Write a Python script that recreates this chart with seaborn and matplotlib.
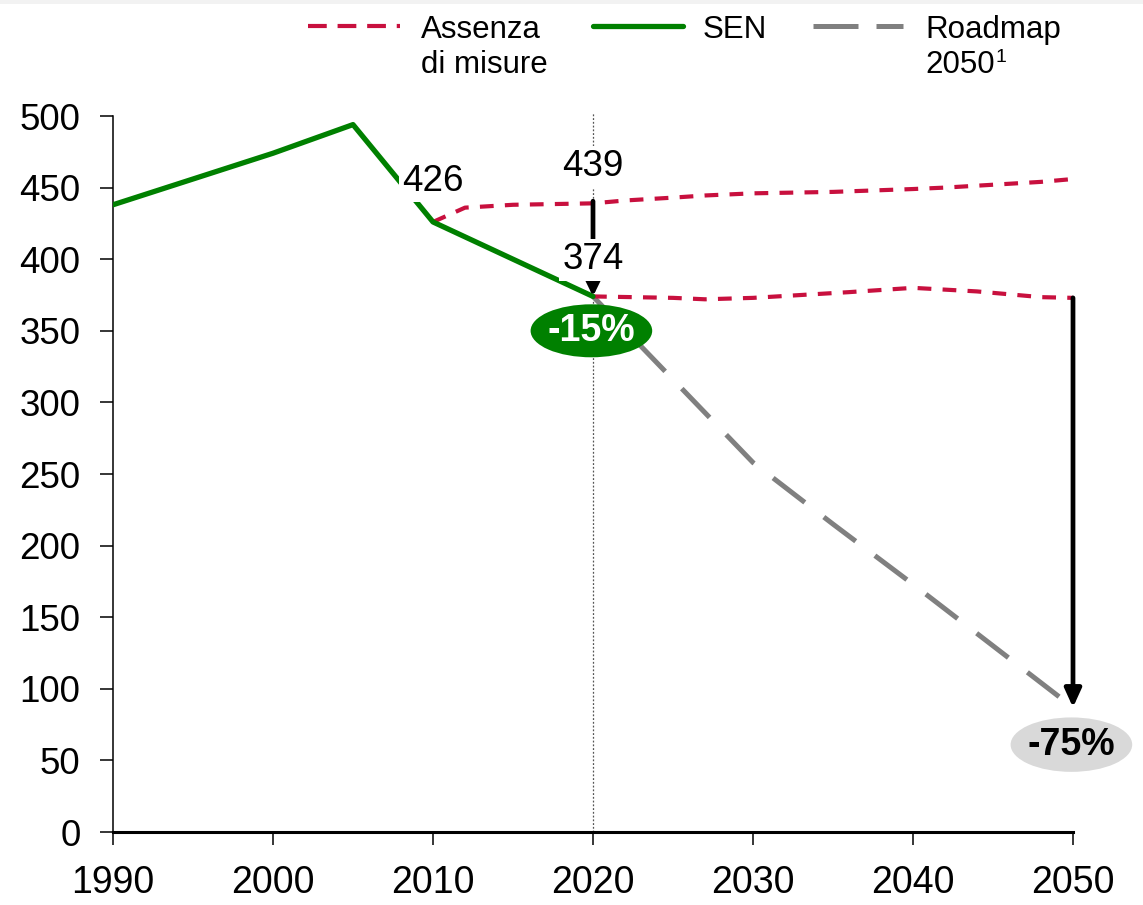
import matplotlib
matplotlib.use("Agg")
import matplotlib.pyplot as plt
from matplotlib.patches import Ellipse, Rectangle
from matplotlib.lines import Line2D
import pandas as pd
import seaborn as sns

# Emissions trajectory, Mt CO2eq
sen_years = [1990, 2000, 2005, 2010, 2020]
sen_values = [438, 474, 494, 426, 374]

# "Assenza di misure": branch from 2010 and branch from 2020
nomeasures_hi_years = [2010, 2012, 2015, 2020, 2022, 2025, 2027, 2030, 2035, 2040, 2042, 2045, 2048, 2050]
nomeasures_hi_values = [426, 436, 438, 439, 441, 443, 444.5, 446, 447, 449, 450, 452, 454, 456]
nomeasures_lo_years = [2020, 2025, 2027, 2030, 2033, 2036, 2040, 2044, 2046, 2048, 2050]
nomeasures_lo_values = [374, 373, 372, 373, 375, 377, 380, 377.5, 375.5, 373.5, 373]

roadmap_years = [2020, 2030, 2035, 2040, 2050]
roadmap_values = [374, 258, 215, 173, 87]

x_ticks = [1990, 2000, 2010, 2020, 2030, 2040, 2050]
y_ticks = [0, 50, 100, 150, 200, 250, 300, 350, 400, 450, 500]

legend_labels = [["Assenza", "di misure"], ["SEN"], ["Roadmap", "2050"]]
footnote_mark = "1"
badge_sen = "-15%"
badge_roadmap = "-75%"

RED = "#C8103E"
GREEN = "#008000"
GREY = "#808080"

sns.set_theme(style="white")
plt.rcParams["font.family"] = ["Liberation Sans", "DejaVu Sans"]

W, H = 1143, 905
fig = plt.figure(figsize=(W / 100, H / 100), dpi=100)
fig.patch.set_facecolor("white")
# thin light band at the very top
fig.patches.append(Rectangle((0, 1 - 4 / H), 1, 4 / H, transform=fig.transFigure,
                             facecolor="#F2F2F2", edgecolor="none"))

ax = fig.add_axes([113 / W, 1 - 832 / H, (1073 - 113) / W, (832 - 116) / H])
ax.set_facecolor("white")

df_sen = pd.DataFrame({"anno": sen_years, "valore": sen_values})
df_hi = pd.DataFrame({"anno": nomeasures_hi_years, "valore": nomeasures_hi_values})
df_lo = pd.DataFrame({"anno": nomeasures_lo_years, "valore": nomeasures_lo_values})
df_rm = pd.DataFrame({"anno": roadmap_years, "valore": roadmap_values})

red_dash = (0, (3.3, 2.7))
grey_dash = (0, (8.0, 4.8))

sns.lineplot(data=df_rm, x="anno", y="valore", ax=ax, color=GREY, lw=3.6,
             linestyle=grey_dash, legend=False, zorder=2)
sns.lineplot(data=df_hi, x="anno", y="valore", ax=ax, color=RED, lw=3.0,
             linestyle=red_dash, legend=False, zorder=3)
sns.lineplot(data=df_lo, x="anno", y="valore", ax=ax, color=RED, lw=3.0,
             linestyle=red_dash, legend=False, zorder=3)
sns.lineplot(data=df_sen, x="anno", y="valore", ax=ax, color=GREEN, lw=3.8,
             legend=False, zorder=4)

# reference year marker
ax.plot([2020, 2020], [0, 502], color="#555555", lw=0.9, linestyle=(0, (1.5, 1.5)),
        clip_on=False, zorder=1)

ax.set_xlim(1990, 2050)
ax.set_ylim(0, 500)
ax.set_xticks(x_ticks)
ax.set_yticks(y_ticks)
ax.set_xlabel("")
ax.set_ylabel("")
for s in ["top", "right"]:
    ax.spines[s].set_visible(False)
ax.spines["left"].set_color("black")
ax.spines["left"].set_linewidth(1.1)
ax.spines["bottom"].set_color("black")
ax.spines["bottom"].set_linewidth(2.2)
ax.spines["bottom"].set_zorder(6)
ax.tick_params(axis="y", direction="out", length=9.4, width=1.1, color="black",
               labelsize=26.5, pad=14, left=True)
ax.tick_params(axis="x", direction="out", length=9.4, width=1.1, color="black",
               labelsize=27, pad=14.5, bottom=True)
for lab in ax.get_xticklabels() + ax.get_yticklabels():
    lab.set_color("black")

# value labels
box = dict(boxstyle="square,pad=0.1", facecolor="white", edgecolor="none")
ax.text(2010, 454.5, f"{sen_values[3]}", ha="center", va="center", fontsize=26.5,
        color="black", bbox=box, zorder=7)
ax.text(2020, 464.5, f"{nomeasures_hi_values[3]}", ha="center", va="center", fontsize=26.5,
        color="black", bbox=box, zorder=7)

# change arrows
ax.annotate("", xy=(2020, sen_values[-1]), xytext=(2020, nomeasures_hi_values[3] + 1.5),
            arrowprops=dict(arrowstyle="-|>,head_length=0.45,head_width=0.22", lw=3.4,
                            color="black", shrinkA=0, shrinkB=0, mutation_scale=20),
            zorder=6)
ax.text(2020, 399.5, f"{sen_values[-1]}", ha="center", va="center", fontsize=26.5,
        color="black", bbox=box, zorder=7)
ax.annotate("", xy=(2050, roadmap_values[-1]), xytext=(2050, nomeasures_lo_values[-1]),
            arrowprops=dict(arrowstyle="-|>,head_length=0.55,head_width=0.25", lw=3.4,
                            color="black", shrinkA=0, shrinkB=0, mutation_scale=20),
            annotation_clip=False, zorder=6)

# percentage badges
ax.add_patch(Ellipse((2019.9, 350), width=7.6, height=37, facecolor=GREEN,
                     edgecolor="none", zorder=8, clip_on=False))
ax.text(2019.9, 350, badge_sen, ha="center", va="center", fontsize=27,
        fontweight="bold", color="white", zorder=9)
ax.add_patch(Ellipse((2049.9, 61), width=7.6, height=38, facecolor="#D9D9D9",
                     edgecolor="none", zorder=8, clip_on=False))
ax.text(2049.9, 61, badge_roadmap, ha="center", va="center", fontsize=27,
        fontweight="bold", color="black", zorder=9, clip_on=False)

# legend drawn across the top
def fx(px):
    return px / W

def fy(py):
    return 1 - py / H

handles = [
    dict(x0=308, x1=400, color=RED, lw=3.0, ls=(0, (4.5, 2.6))),
    dict(x0=593, x1=683, color=GREEN, lw=3.8, ls="-"),
    dict(x0=813, x1=903, color=GREY, lw=3.6, ls=(0, (9.0, 3.6))),
]
text_x = [421, 703, 925]
legend_texts = []
for h, tx, lines in zip(handles, text_x, legend_labels):
    fig.add_artist(Line2D([fx(h["x0"]), fx(h["x1"])], [fy(26), fy(26)],
                          transform=fig.transFigure, color=h["color"], lw=h["lw"],
                          linestyle=h["ls"]))
    for i, line in enumerate(lines):
        legend_texts.append(fig.text(fx(tx), fy(38 + 35 * i), line, ha="left",
                                     va="baseline", fontsize=22.5, color="black"))

# footnote marker on "2050"
fig.canvas.draw()
r = fig.canvas.get_renderer()
bb = legend_texts[-1].get_window_extent(r)
fig.text(bb.x1 / W + 1 / W, fy(62), footnote_mark, ha="left", va="baseline",
         fontsize=14, color="black")

fig.savefig("out.png", dpi=100, facecolor="white")
